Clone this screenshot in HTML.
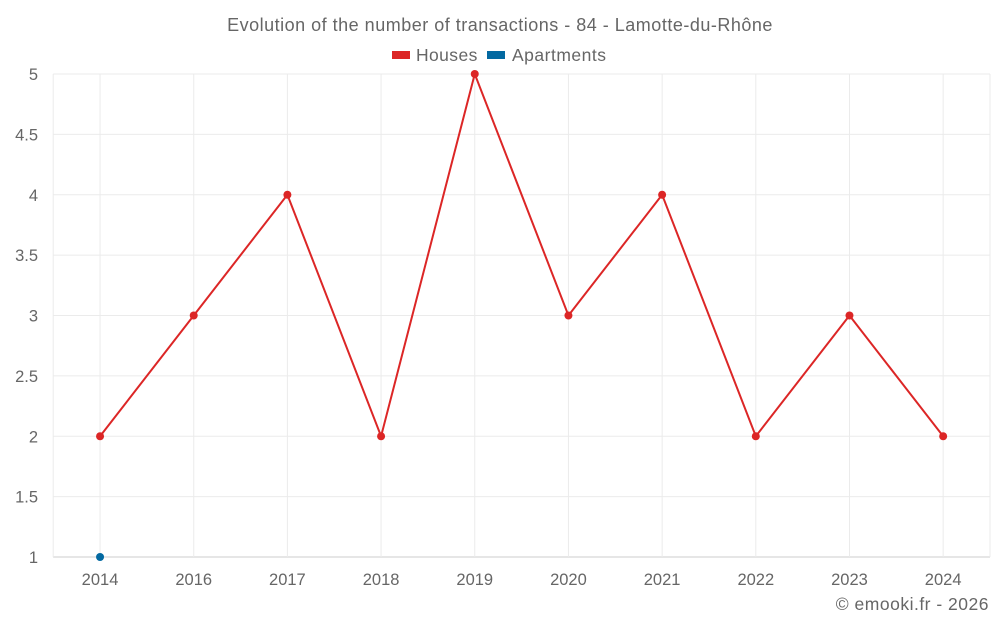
<!DOCTYPE html>
<html><head><meta charset="utf-8"><style>
body{margin:0;background:#fff;font-family:"Liberation Sans",sans-serif;}
svg text{font-family:"Liberation Sans",sans-serif;fill:#666;}
</style></head><body>
<svg width="1000" height="625">
<text x="500" y="31" text-anchor="middle" font-size="18" letter-spacing="0.5">Evolution of the number of transactions - 84 - Lamotte-du-Rhône</text>
<g>
<g><rect x="392" y="51" width="18" height="8" fill="#dc2626"/><text x="416" y="61" font-size="17.5" letter-spacing="0.4">Houses</text></g>
<g><rect x="487" y="51" width="18" height="8" fill="#0369a1"/><text x="512" y="61" font-size="17.5" letter-spacing="0.5">Apartments</text></g>
</g>
<g id="grid"></g>
<g id="axes"></g>
<g id="series"></g>
<text x="989" y="610" text-anchor="end" font-size="17.5" letter-spacing="0.5">© emooki.fr - 2026</text>
</svg>
<script>
const categories=["2014","2016","2017","2018","2019","2020","2021","2022","2023","2024"];
const houses=[2,3,4,2,5,3,4,2,3,2];
const apartments=[1,null,null,null,null,null,null,null,null,null];
const yTicks=[1,1.5,2,2.5,3,3.5,4,4.5,5];
const L=53.2,R=990,T=74,B=557,yMin=1,yMax=5;
const bw=(R-L)/categories.length;
const x=i=>L+bw*(i+0.5);
const y=v=>B-(v-yMin)/(yMax-yMin)*(B-T);
const NS="http://www.w3.org/2000/svg";
function mk(tag,attrs,parent){const e=document.createElementNS(NS,tag);for(const k in attrs)e.setAttribute(k,attrs[k]);parent.appendChild(e);return e;}
const grid=document.getElementById('grid'),axes=document.getElementById('axes'),series=document.getElementById('series');
yTicks.forEach(t=>{
 const l=mk('line',{x1:L,x2:R,y1:y(t),y2:y(t),stroke:t===yMin?'#ccc':'#ebebeb'},grid);
 
 
 const tx=mk('text',{x:38,y:y(t)+6,'text-anchor':'end','font-size':16.5},axes);
 tx.textContent=String(t);
 
 
});
[L,R].forEach(v=>{const l=mk('line',{x1:v,x2:v,y1:T,y2:B,stroke:'#ebebeb'},grid);
 
 });
categories.forEach((c,i)=>{
 const l=mk('line',{x1:x(i),x2:x(i),y1:T,y2:B,stroke:'#ebebeb'},grid);
 
 
 const tx=mk('text',{x:x(i),y:585,'text-anchor':'middle','font-size':16.5},axes);
 tx.textContent=c;
 
 
});
const pts=houses.map((v,i)=>v==null?null:x(i)+','+y(v)).filter(Boolean).join(' ');
const pl=mk('polyline',{points:pts,fill:'none',stroke:'#dc2626','stroke-width':2},series);


houses.forEach((v,i)=>{if(v==null)return;
 const c=mk('circle',{cx:x(i),cy:y(v),r:4,fill:'#dc2626'},series);
 
 });
apartments.forEach((v,i)=>{if(v==null)return;
 const c=mk('circle',{cx:x(i),cy:y(v),r:4,fill:'#0369a1'},series);
 
 });
</script>
</body></html>
